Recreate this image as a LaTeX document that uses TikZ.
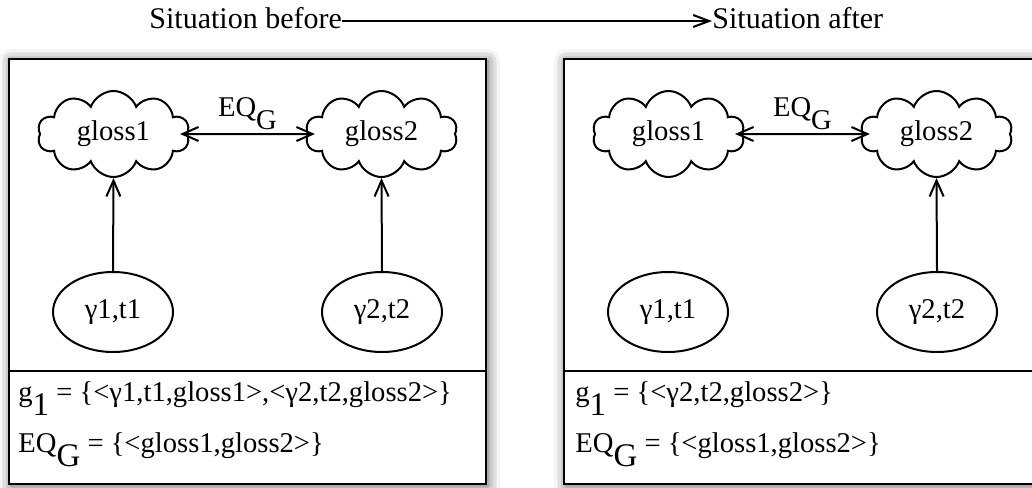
\documentclass[tikz,border=0pt]{standalone}
\usepackage{fontspec}
\setmainfont{Liberation Serif}
\usetikzlibrary{shapes.symbols,shapes.geometric,arrows.meta,shadows.blur}

% lowered, enlarged subscript as used in the set notation
\newcommand\dropsub[2][8pt]{\raisebox{-#1}{#2}}
\newcommand\bigsub[1]{{\fontsize{16.5}{17}\selectfont #1}}

\begin{document}
\begin{tikzpicture}[x=0.5pt,y=-0.5pt,
  font=\fontsize{14.3}{17}\selectfont,
  frame/.style={draw, line width=1.3pt, fill=white,
    blur shadow={shadow xshift=1pt, shadow yshift=-1pt,
      shadow blur radius=6pt, shadow opacity=65}},
  puff/.style={cloud, cloud puffs=10, cloud puff arc=140,
    shape border rotate=18, cloud ignores aspect, draw, line width=1pt,
    minimum width=76pt, minimum height=43pt, inner sep=0pt},
  oval/.style={ellipse, draw, line width=1pt,
    minimum width=60pt, minimum height=40pt, inner sep=0pt},
  link/.style={line width=1pt, -{Straight Barb[length=8pt,width=7pt]}},
  both/.style={line width=1pt, shorten <=-4pt, shorten >=-4pt,
    {Straight Barb[length=8pt,width=7pt]}-{Straight Barb[length=8pt,width=7pt]}},
  title/.style={inner sep=0pt, font=\fontsize{15}{17}\selectfont},
  setline/.style={anchor=base west, inner sep=0pt}]

\useasboundingbox (0,0) rectangle (1032,487);

% heading: before -> after
\node[title, anchor=base west] (before) at (149,28) {Situation before};
\node[title, anchor=base west] (after) at (712,28) {Situation after};
\draw[line width=1pt, -{Straight Barb[length=8pt,width=6pt]}]
  ([yshift=3.5pt]before.base east) -- ([yshift=3.5pt]after.base west);

% ---------- left panel: situation before ----------
\path[frame] (9,59) rectangle (486,484);
\draw[line width=1.3pt] (9,371) -- (486,371);

\node[puff] (la) at (113.5,134) {gloss1};
\node[puff] (lb) at (381.5,134) {gloss2};
\node[oval] (lx) at (113,312) {γ1,t1};
\node[oval] (ly) at (382,312) {γ2,t2};

\draw[both] (la.east) -- (lb.west)
  node[midway, above=1.5pt, inner sep=0pt] (leq) {EQ\dropsub[6.5pt]{G}};
\draw[link] (lx.north) -- (la.south);
\draw[link] (ly.north) -- (lb.south);

\node[setline] (lg) at (18,401)
  {g\dropsub[7pt]{\bigsub{1}} = \{<γ1,t1,gloss1>,<γ2,t2,gloss2>\}};
\node[setline] (le) at (18,452)
  {EQ\dropsub[7pt]{\bigsub{G}} = \{<gloss1,gloss2>\}};

% ---------- right panel: situation after ----------
\path[frame] (564,59) rectangle (1041,484);
\draw[line width=1.3pt] (564,371) -- (1041,371);

\node[puff] (ra) at (668.5,134) {gloss1};
\node[puff] (rb) at (936.5,134) {gloss2};
\node[oval] (rx) at (668,312) {γ1,t1};
\node[oval] (ry) at (937,312) {γ2,t2};

\draw[both] (ra.east) -- (rb.west)
  node[midway, above=1.5pt, inner sep=0pt] (req) {EQ\dropsub[6.5pt]{G}};
\draw[link] (ry.north) -- (rb.south);

\node[setline] (rg) at (575,401)
  {g\dropsub[7pt]{\bigsub{1}} = \{<γ2,t2,gloss2>\}};
\node[setline] (re) at (575,452)
  {EQ\dropsub[7pt]{\bigsub{G}} = \{<gloss1,gloss2>\}};

\end{tikzpicture}
\end{document}
